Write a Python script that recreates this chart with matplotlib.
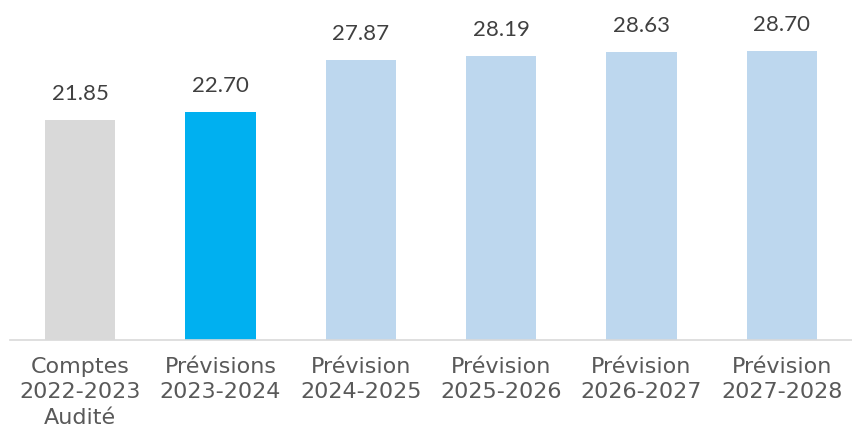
import matplotlib.pyplot as plt

categories = ["Comptes\n2022-2023\nAudité", "Prévisions\n2023-2024", "Prévision\n2024-2025",
              "Prévision\n2025-2026", "Prévision\n2026-2027", "Prévision\n2027-2028"]
values = [21.85, 22.70, 27.87, 28.19, 28.63, 28.70]
colors = ["#D9D9D9", "#00B0F0", "#BDD7EE", "#BDD7EE", "#BDD7EE", "#BDD7EE"]

plt.rcParams['font.family'] = ['Lato', 'DejaVu Sans']

fig = plt.figure(figsize=(8.52, 4.38), dpi=100)
ax = fig.add_axes([10 / 852, 98 / 438, 842 / 852, 340 / 438])

x = range(len(values))
ax.bar(x, values, width=0.5, color=colors, zorder=2)
for i, v in enumerate(values):
    ax.text(i, v + 1.6, "%.2f" % v, ha='center', va='bottom', fontsize=16, color='#404040')

ax.set_xlim(-0.5, len(values) - 0.5)
ax.set_ylim(0, 33.8)
ax.set_xticks(list(x))
ax.set_xticklabels(categories, fontsize=16, color='#595959', linespacing=1.35,
                   family=['DejaVu Sans'])
ax.tick_params(axis='x', length=0, pad=12)
ax.set_yticks([])
for s in ['top', 'right', 'left']:
    ax.spines[s].set_visible(False)
ax.spines['bottom'].set_color('#D9D9D9')
ax.spines['bottom'].set_linewidth(1.2)

fig.savefig("out.png", dpi=100)
